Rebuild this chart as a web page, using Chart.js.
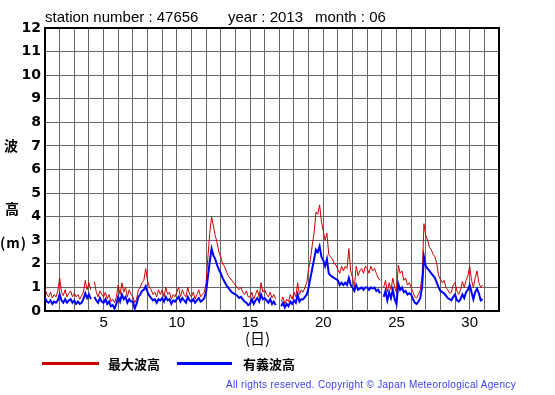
<!DOCTYPE html>
<html>
<head>
<meta charset="utf-8">
<script src="https://cdn.jsdelivr.net/npm/chart.js@4.4.1/dist/chart.umd.min.js"></script>
<style>
  body { margin: 0; background: #fff; }
  #wrap { position: relative; width: 555px; height: 395px; overflow: hidden; }
  #wrap canvas { position: absolute; left: 0; top: 0; }
  .txt { position: absolute; white-space: nowrap; line-height: 1; color: #000; }
  .ttl { font: 15px "Liberation Sans", Arial, sans-serif; top: 8px; }
  .ylab { font: bold 14px "Noto Sans CJK JP", sans-serif; }
  .leg { font: bold 13px "Noto Sans CJK JP", sans-serif; top: 354px; }
  .legline { position: absolute; height: 3px; top: 362px; }
</style>
</head>
<body>
<div id="wrap">
  <canvas id="chartNami" width="555" height="395"></canvas>
  <div class="txt ttl" style="left:45px">station number : 47656</div>
  <div class="txt ttl" style="left:228px">year : 2013</div>
  <div class="txt ttl" style="left:315px">month : 06</div>
  <div class="txt ylab" style="left:4px; top:135px">波</div>
  <div class="txt ylab" style="left:5px; top:198px">高</div>
  <div class="txt ylab" style="left:0px; top:232px; letter-spacing:1px">(m)</div>
  <div class="txt" style="left:245px; top:327px; font:15px 'Noto Sans CJK JP', sans-serif">(日)</div>
  <div class="legline" style="left:42px; width:57px; background:#cc0000"></div>
  <div class="txt leg" style="left:108px">最大波高</div>
  <div class="legline" style="left:177px; width:55px; background:#0000ff"></div>
  <div class="txt leg" style="left:243px">有義波高</div>
  <div class="txt" style="left:226px; top:379px; font:10px 'Liberation Sans', Arial, sans-serif; letter-spacing:0.3px; color:#3c3cf0">All rights reserved. Copyright © Japan Meteorological Agency</div>
</div>
<script>
// 3時間毎の値 (6月1日 00時 から), 1行 = 1日
const maxWave = [
  0.95, 0.7, 0.6, 0.8, 0.55, 0.7, 0.6, 0.85,
  1.4, 0.8, 0.65, 0.9, 0.6, 0.75, 0.85, 0.6,
  0.75, 0.6, 0.7, 0.5, 0.65, 0.8, 1.3, 0.9,
  1.2, 0.9, null, 1.25, 0.8, 0.6, 0.85, 0.7,
  0.6, 0.8, 0.5, 0.7, 0.4, 0.5, 0.35, 0.6,
  1.1, 0.7, 1.2, 0.8, 1.0, 0.6, 0.9, 0.7,
  0.6, 0.35, 0.5, 0.9, 1.0, 1.2, 1.3, 1.8,
  1.3, 1.0, 0.9, 0.7, 0.8, 0.6, 0.9, 0.7,
  0.9, 0.6, 1.0, 0.7, 0.8, 0.5, 0.7, 0.6,
  0.8, 1.0, 0.6, 0.9, 0.7, 0.6, 1.0, 0.7,
  0.6, 0.8, 0.5, 0.7, 0.9, 0.6, 0.7, 0.8,
  1.2, 2.3, 3.3, 4.0, 3.6, 3.2, 2.9, 2.5,
  2.3, 2.0, 1.9, 1.7, 1.5, 1.4, 1.3, 1.2,
  1.1, 1.0, 0.9, 1.0, 0.8, 0.7, 0.85, 0.6,
  0.6, 0.8, 0.5, 0.7, 0.9, 0.6, 1.2, 0.8,
  0.9, 0.7, 0.6, 0.8, 0.55, 0.7, 0.5, null,
  null, 0.4, 0.6, 0.3, 0.5, 0.4, 0.7, 0.5,
  0.8, 0.6, 1.2, 0.7, 0.9, 0.8, 1.0, 1.2,
  1.8, 2.2, 2.8, 3.3, 4.2, 4.1, 4.5, 3.8,
  3.4, 3.0, 3.3, 2.4, 2.3, 2.2, 2.0, 1.95,
  1.75, 1.6, 1.9, 1.7, 1.9, 1.8, 2.65, 1.7,
  1.4, 1.0, 1.9, 1.5, 1.7, 1.8, 1.6, 1.9,
  1.8, 1.6, 1.9, 1.7, 1.8, 1.6, 1.4, 1.3,
  null, 1.0, 1.3, 0.8, 1.2, 0.9, 1.4, 1.0,
  0.8, 1.95, 1.6, 1.7, 1.3, 1.4, 1.1, 1.2,
  1.0, 0.8, 0.6, 0.55, 0.7, 0.9, 1.5, 3.7,
  3.2, 3.0, 2.7, 2.6, 2.4, 2.3, 2.0, 1.5,
  1.35, 1.2, 1.3, 1.0, 0.9, 0.75, 0.8, 1.1,
  1.2, 0.85, 0.7, 0.9, 1.25, 1.0, 1.3, 1.5,
  1.9, 1.3, 1.0, 1.4, 1.7, 1.2, 1.0, 1.1
];
const sigWave = [
  0.55, 0.4, 0.35, 0.45, 0.3, 0.4, 0.35, 0.45,
  0.7, 0.45, 0.35, 0.5, 0.35, 0.45, 0.5, 0.35,
  0.45, 0.3, 0.4, 0.3, 0.35, 0.5, 0.75, 0.55,
  0.7, 0.5, null, 0.6, 0.45, 0.35, 0.55, 0.4,
  0.35, 0.5, 0.3, 0.4, 0.2, 0.25, 0.1, 0.3,
  0.6, 0.4, 0.7, 0.5, 0.6, 0.35, 0.5, 0.4,
  0.4, 0.1, 0.3, 0.6, 0.7, 0.85, 0.9, 1.05,
  0.8, 0.65, 0.55, 0.45, 0.5, 0.35, 0.5, 0.45,
  0.55, 0.4, 0.6, 0.45, 0.5, 0.3, 0.45, 0.4,
  0.5, 0.6, 0.4, 0.55, 0.45, 0.35, 0.6, 0.45,
  0.4, 0.5, 0.35, 0.45, 0.55, 0.4, 0.45, 0.55,
  0.8, 1.45, 2.1, 2.65, 2.35, 2.2, 1.95, 1.75,
  1.6, 1.4, 1.25, 1.1, 1.0, 0.9, 0.8, 0.75,
  0.7, 0.65, 0.55, 0.6, 0.5, 0.4, 0.35, 0.25,
  0.3, 0.5, 0.3, 0.45, 0.55, 0.4, 0.7, 0.5,
  0.55, 0.45, 0.35, 0.5, 0.3, 0.4, 0.25, null,
  null, 0.2, 0.35, 0.15, 0.3, 0.2, 0.4, 0.3,
  0.45, 0.35, 0.7, 0.4, 0.5, 0.5, 0.6, 0.7,
  1.0, 1.4, 1.8, 2.2, 2.6, 2.5, 2.75, 2.3,
  2.15, 1.9, 2.2, 1.6, 1.5, 1.45, 1.4, 1.35,
  1.3, 1.1, 1.2, 1.1, 1.2, 1.1, 1.4, 1.1,
  1.0, 0.85, 1.1, 0.9, 0.95, 1.0, 0.9, 1.0,
  1.0, 0.9, 1.0, 0.95, 1.0, 0.85, 0.9, 0.75,
  null, 0.6, 0.85, 0.45, 0.8, 0.55, 0.9, 0.5,
  0.3, 1.15, 0.9, 1.0, 0.8, 0.85, 0.7, 0.75,
  0.7, 0.5, 0.35, 0.3, 0.4, 0.55, 1.0, 2.3,
  1.9, 1.8, 1.7, 1.6, 1.5, 1.4, 1.2, 1.0,
  0.85, 0.8, 0.75, 0.65, 0.55, 0.5, 0.45, 0.6,
  0.7, 0.45, 0.4, 0.5, 0.7, 0.55, 0.8, 0.9,
  1.1, 0.8, 0.5, 0.8, 0.95, 0.75, 0.45, 0.5
];
const dayTicks = [5, 10, 15, 20, 25, 30];
const stepPerDay = 8; // 3時間毎

function toPoints(arr) {
    return arr.map((v, i) => ({ x: 1 + i / stepPerDay, y: v }));
}

const framePlugin = {
    id: 'frame',
    beforeDatasetsDraw(chart) {
        const a = chart.chartArea, ctx = chart.ctx;
        ctx.save();
        ctx.strokeStyle = '#000';
        ctx.lineWidth = 2;
        ctx.strokeRect(a.left, a.top, a.right - a.left, a.bottom - a.top);
        ctx.restore();
    }
};

new Chart(document.getElementById('chartNami'), {
    type: 'line',
    data: {
        datasets: [
            { label: '有義波高', data: toPoints(sigWave), borderColor: '#0000ff', borderWidth: 2 },
            { label: '最大波高', data: toPoints(maxWave), borderColor: '#cc0000', borderWidth: 1 }
        ]
    },
    options: {
        responsive: false, animation: false, devicePixelRatio: 1,
        layout: { padding: { top: 28, right: 56, left: 0, bottom: 0 } },
        elements: { point: { radius: 0 }, line: { tension: 0 } },
        plugins: { legend: { display: false }, tooltip: { enabled: false } },
        scales: {
            x: {
                type: 'linear', min: 1, max: 32,
                afterFit: s => { s.height = 84; },
                grid: { color: '#666', drawTicks: false },
                border: { display: false },
                ticks: {
                    stepSize: 1, autoSkip: false, maxRotation: 0, padding: 3,
                    color: '#000', font: { family: 'Liberation Sans', size: 15 },
                    callback: v => dayTicks.includes(v) ? v : ''
                }
            },
            y: {
                min: 0, max: 12,
                afterFit: s => { s.width = 45; },
                grid: { color: '#666', drawTicks: false },
                border: { display: false },
                ticks: {
                    stepSize: 1, padding: 4,
                    color: '#000', font: { family: 'DejaVu Sans', size: 14, weight: 'bold' }
                }
            }
        }
    },
    plugins: [framePlugin]
});
</script>
</body>
</html>
